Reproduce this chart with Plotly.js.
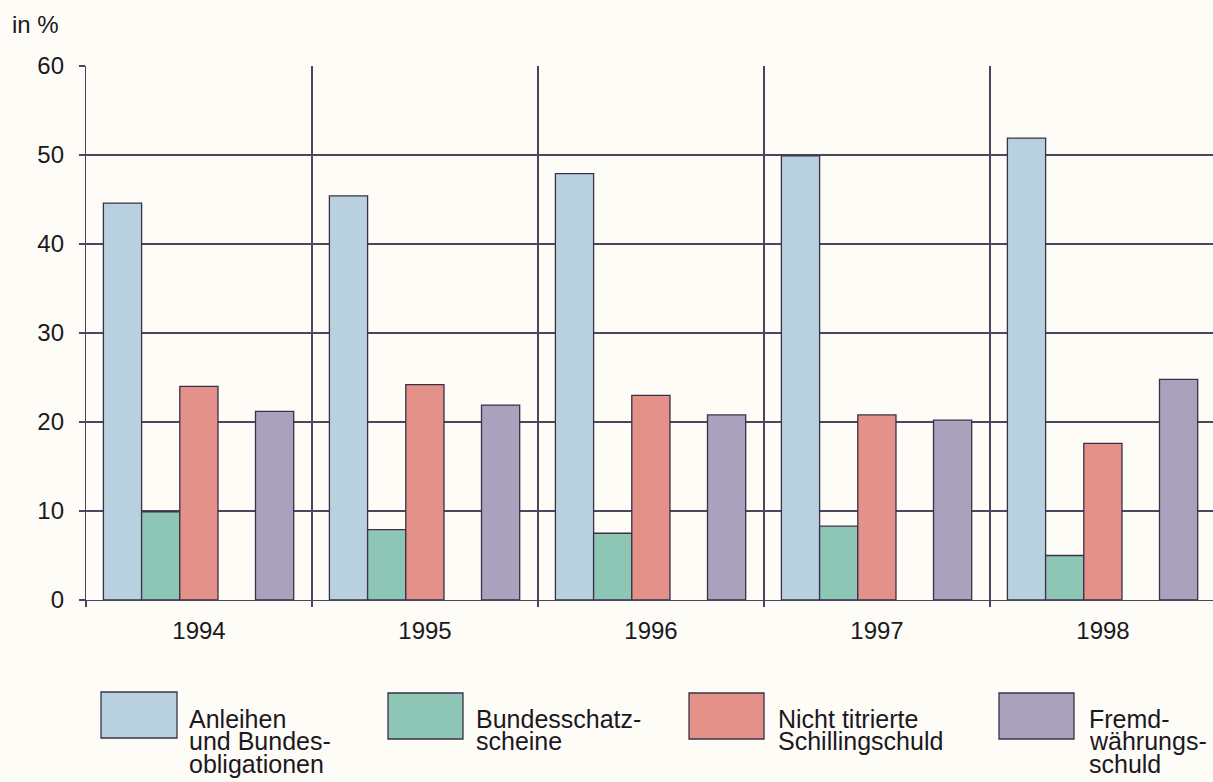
<!DOCTYPE html>
<html>
<head>
<meta charset="utf-8">
<script src="https://cdn.plot.ly/plotly-3.0.1.min.js"></script>
<style>
  html, body { margin: 0; padding: 0; background: #fdfcf6; }
  #chart { width: 1213px; height: 782px; }
</style>
</head>
<body>
<div id="chart"></div>
<script>
// ---- Data ----
const years = ['1994', '1995', '1996', '1997', '1998'];
const seriesNames = [
  'Anleihen und Bundesobligationen',
  'Bundesschatzscheine',
  'Nicht titrierte Schillingschuld',
  'Fremdwährungsschuld'
];
const legendLines = [
  ['Anleihen', 'und Bundes-', 'obligationen'],
  ['Bundesschatz-', 'scheine'],
  ['Nicht titrierte', 'Schillingschuld'],
  ['Fremd-', 'währungs-', 'schuld']
];
const anleihen        = [44.6, 45.4, 47.9, 49.9, 51.9];
const bundesschatz    = [9.9, 7.9, 7.5, 8.3, 5.0];
const nichtTitriert   = [24.0, 24.2, 23.0, 20.8, 17.6];
const fremdwaehrung   = [21.2, 21.9, 20.8, 20.2, 24.8];
const yTicks = [0, 10, 20, 30, 40, 50, 60];

// ---- Styling ----
const colors = ['#b9d1df', '#8ec6b6', '#e4918a', '#a8a2bd'];
const lineCol = '#4f4360';
const edgeCol = '#3a3048';
const bg = '#fdfcf6';
const FONT = 'Liberation Sans, Arial, Helvetica, sans-serif';
const textCol = '#1c181f';

const W = 1213, H = 782;
const M = {l: 86, r: 0, t: 66, b: 182};
const plotW = W - M.l - M.r, plotH = H - M.t - M.b;
const px2x = p => (p - M.l) / plotW;
const py2y = p => (H - M.b - p) / plotH;
const catPx = 226;

const values = [anleihen, bundesschatz, nichtTitriert, fremdwaehrung];
const barW = 0.169;
const offsets = [-0.423, -0.254, -0.085, 0.25];

const traces = values.map((v, i) => ({
  type: 'bar',
  x: years,
  y: v,
  name: seriesNames[i],
  offset: offsets[i],
  width: barW,
  marker: {color: colors[i], line: {color: edgeCol, width: 1.3}},
  hoverinfo: 'x+y+name'
}));

// ---- Custom legend ----
const boxes = [
  [101, 177, 692, 738],
  [388, 463, 693, 739],
  [689, 764, 693, 739],
  [999, 1074, 693, 739]
];
const textX = [188, 475, 777, 1088];
const lineCenters = [718.5, 741, 763.5];

const shapes = boxes.map((b, i) => ({
  type: 'rect', xref: 'paper', yref: 'paper',
  x0: px2x(b[0]), x1: px2x(b[1]), y0: py2y(b[3]), y1: py2y(b[2]),
  fillcolor: colors[i], line: {color: edgeCol, width: 1.3}
}));

const annotations = [];
legendLines.forEach((lines, i) => {
  lines.forEach((t, j) => {
    annotations.push({
      xref: 'paper', yref: 'paper',
      x: px2x(textX[i]), y: py2y(lineCenters[j]),
      xanchor: 'left', yanchor: 'middle',
      text: t, showarrow: false, borderpad: 0,
      font: {family: FONT, size: 25, color: textCol}
    });
  });
});
annotations.push({
  xref: 'paper', yref: 'paper',
  x: px2x(10), y: py2y(24),
  xanchor: 'left', yanchor: 'middle',
  text: 'in %', showarrow: false,
  font: {family: FONT, size: 24, color: textCol}
});

const layout = {
  width: W, height: H,
  margin: M,
  paper_bgcolor: bg, plot_bgcolor: bg,
  showlegend: false,
  bargap: 0,
  xaxis: {
    type: 'category',
    categoryorder: 'array', categoryarray: years,
    range: [-0.5, -0.5 + plotW / catPx],
    tickson: 'boundaries',
    ticks: 'outside', ticklen: 6, tickcolor: lineCol, tickwidth: 1.2,
    showgrid: true, gridcolor: lineCol, gridwidth: 1.2,
    showline: true, linecolor: lineCol, linewidth: 1.2,
    tickfont: {family: FONT, size: 24, color: textCol},
    ticklabelstandoff: 9,
    fixedrange: true
  },
  yaxis: {
    range: [0, 60],
    tickvals: yTicks,
    ticktext: yTicks.map(String),
    ticks: 'outside', ticklen: 6, tickcolor: lineCol, tickwidth: 1.2,
    showgrid: true, gridcolor: lineCol, gridwidth: 1.2,
    zeroline: false,
    showline: true, linecolor: lineCol, linewidth: 1.2,
    tickfont: {family: FONT, size: 24, color: textCol},
    ticklabelstandoff: 10,
    fixedrange: true
  },
  shapes: shapes,
  annotations: annotations
};

Plotly.newPlot('chart', traces, layout, {displayModeBar: false, staticPlot: true});
</script>
</body>
</html>
